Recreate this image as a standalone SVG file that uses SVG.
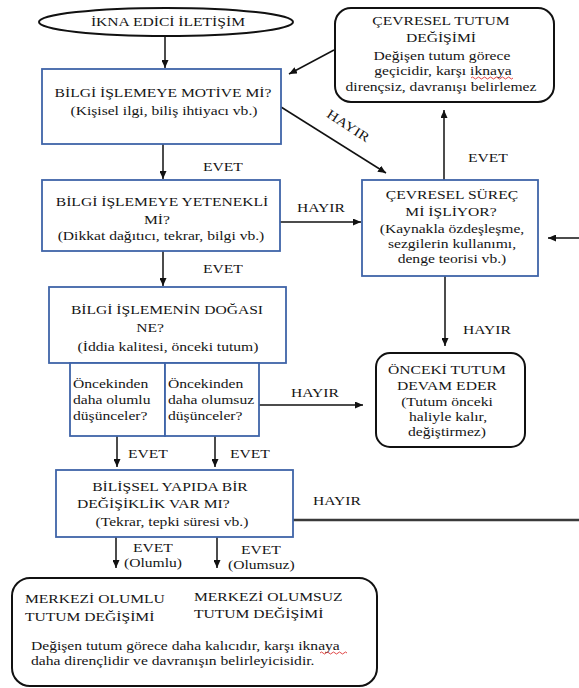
<svg xmlns="http://www.w3.org/2000/svg" width="579" height="688" viewBox="0 0 579 688" font-family="'Liberation Serif', 'Times New Roman', serif">
<defs>
<style>
text{font-family:"Liberation Serif","Times New Roman",serif;font-size:13px;fill:#151515}
.c{text-anchor:middle;transform-box:fill-box;transform-origin:center;transform:scaleX(1.2)}
.l{text-anchor:start;transform-box:fill-box;transform-origin:left;transform:scaleX(1.2)}
.bx{fill:#fff;stroke:#3f64a8;stroke-width:1.8}
.rb{fill:#fff;stroke:#111;stroke-width:2}
.cn{fill:none;stroke:#111;stroke-width:1.5;marker-end:url(#ah)}
.thick{fill:none;stroke:#3a3a3a;stroke-width:2.6}
.sq{fill:none;stroke:#d33;stroke-width:0.9}
</style>
<marker id="ah" markerUnits="userSpaceOnUse" markerWidth="8" markerHeight="7" refX="8" refY="3.5" orient="auto">
<path d="M0,0 L8,3.5 L0,7 z" fill="#111"/>
</marker>
</defs>
<rect width="579" height="688" fill="#fff"/>

<g id="connectors">
<path class="cn" d="M165,36 V68"/>
<path class="cn" d="M163,144 V179"/>
<path class="cn" d="M163,251 V286"/>
<path class="cn" d="M280,222 H361"/>
<path class="cn" d="M281,107 L386,173"/>
<path class="cn" d="M334,50 L289,74"/>
<path class="cn" d="M444,180 V110"/>
<path class="cn" d="M445,276 V346"/>
<path class="cn" d="M259,405 H363"/>
<path class="cn" d="M117,436 V467"/>
<path class="cn" d="M215,436 V467"/>
<path class="cn" d="M116,537 V568"/>
<path class="cn" d="M217,537 V568"/>
<path class="thick" d="M293,520 H579"/>
<path class="cn" d="M579,238 H548"/>
<text class="l" x="203" y="171">EVET</text>
<text class="l" x="203" y="273">EVET</text>
<text class="l" x="468" y="162">EVET</text>
<text class="l" x="128" y="458">EVET</text>
<text class="l" x="230" y="458">EVET</text>
<text class="l" x="133" y="552">EVET</text>
<text class="l" x="124" y="567">(Olumlu)</text>
<text class="l" x="241" y="554">EVET</text>
<text class="l" x="228" y="569">(Olumsuz)</text>
<text class="l" x="297" y="212">HAYIR</text>
<text class="l" x="463" y="334">HAYIR</text>
<text class="l" x="291" y="397">HAYIR</text>
<text class="l" x="313" y="505">HAYIR</text>
<g transform="rotate(33 348 126)"><text class="c" x="348" y="130">HAYIR</text></g>
</g>

<g id="start">
<ellipse cx="166" cy="22" rx="127" ry="14" fill="#fff" stroke="#111" stroke-width="2"/>
<text class="c" x="168" y="26">İKNA EDİCİ İLETİŞİM</text>
</g>

<g id="motive">
<rect class="bx" x="42" y="69" width="239" height="75"/>
<text class="c" x="163" y="97">BİLGİ İŞLEMEYE  MOTİVE Mİ?</text>
<text class="c" x="164" y="115">(Kişisel ilgi, biliş  ihtiyacı vb.)</text>
</g>

<g id="peripheral-change">
<rect class="rb" x="335" y="8" width="219" height="94" rx="16"/>
<text class="c" x="441" y="25">ÇEVRESEL  TUTUM</text>
<text class="c" x="441" y="42">DEĞİŞİMİ</text>
<text class="c" x="442" y="60">Değişen tutum  görece</text>
<text class="c" x="443" y="75">geçicidir, karşı iknaya</text>
<text class="c" x="441" y="91">dirençsiz, davranışı belirlemez</text>
<path class="sq" d="M471,78 q1.5,-2 3,0 t3,0 t3,0 t3,0 t3,0 t3,0 t3,0 t3,0 t3,0 t3,0 t3,0 t3,0 t3,0 t3,0"/>
</g>

<g id="ability">
<rect class="bx" x="42" y="180" width="238" height="71"/>
<text class="c" x="162" y="206">BİLGİ İŞLEMEYE  YETENEKLİ</text>
<text class="c" x="157" y="224">Mİ?</text>
<text class="c" x="161" y="240">(Dikkat dağıtıcı, tekrar, bilgi vb.)</text>
</g>

<g id="peripheral-process">
<rect class="bx" x="362" y="180" width="176" height="96"/>
<text class="c" x="452" y="199">ÇEVRESEL  SÜREÇ</text>
<text class="c" x="451" y="216">Mİ İŞLİYOR?</text>
<text class="c" x="452" y="233">(Kaynakla özdeşleşme,</text>
<text class="c" x="452" y="248">sezgilerin kullanımı,</text>
<text class="c" x="452" y="263">denge teorisi vb.)</text>
</g>

<g id="nature">
<rect class="bx" x="49" y="287" width="237" height="76"/>
<text class="c" x="167" y="314">BİLGİ İŞLEMENİN DOĞASI</text>
<text class="c" x="150" y="332">NE?</text>
<text class="c" x="168" y="351">(İddia kalitesi, önceki tutum)</text>
</g>

<g id="positive-thoughts">
<rect class="bx" x="70" y="363" width="95" height="73"/>
<text class="l" x="73" y="388">Öncekinden</text>
<text class="l" x="73" y="404">daha olumlu</text>
<text class="l" x="73" y="420">düşünceler?</text>
</g>

<g id="negative-thoughts">
<rect class="bx" x="165" y="363" width="94" height="73"/>
<text class="l" x="168" y="388">Öncekinden</text>
<text class="l" x="168" y="404">daha olumsuz</text>
<text class="l" x="168" y="420">düşünceler?</text>
</g>

<g id="previous-attitude">
<rect class="rb" x="376" y="353" width="149" height="94" rx="14"/>
<text class="c" x="447" y="374">ÖNCEKİ TUTUM</text>
<text class="c" x="447" y="390">DEVAM EDER</text>
<text class="c" x="447" y="406">(Tutum önceki</text>
<text class="c" x="448" y="421">haliyle kalır,</text>
<text class="c" x="447" y="436">değiştirmez)</text>
</g>

<g id="cognitive-change">
<rect class="bx" x="56" y="470" width="237" height="67"/>
<text class="c" x="170" y="491">BİLİŞSEL  YAPIDA BİR</text>
<text class="l" x="77" y="508">DEĞİŞİKLİK VAR MI?</text>
<text class="c" x="172" y="526">(Tekrar, tepki süresi vb.)</text>
</g>

<g id="central-change">
<rect class="rb" x="12" y="578" width="365" height="108" rx="18"/>
<text class="l" x="25" y="603">MERKEZİ OLUMLU</text>
<text class="l" x="25" y="621">TUTUM DEĞİŞİMİ</text>
<text class="l" x="194" y="601">MERKEZİ OLUMSUZ</text>
<text class="l" x="194" y="618">TUTUM DEĞİŞİMİ</text>
<text class="l" x="31" y="650">Değişen tutum  görece daha kalıcıdır, karşı iknaya</text>
<text class="l" x="31" y="665">daha dirençlidir  ve davranışın belirleyicisidir.</text>
<path class="sq" d="M320,653 q1.5,-2 3,0 t3,0 t3,0 t3,0 t3,0 t3,0 t3,0 t3,0 t3,0"/>
</g>
</svg>
